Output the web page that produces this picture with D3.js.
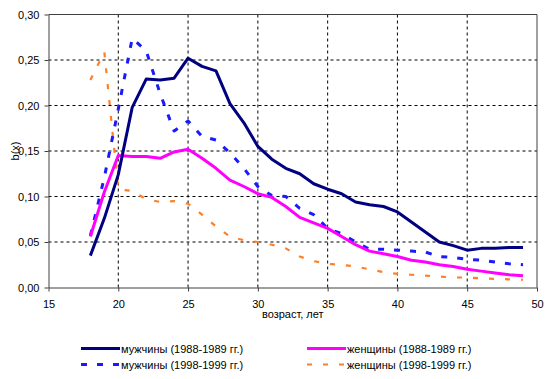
<!DOCTYPE html>
<html><head><meta charset="utf-8">
<script src="https://cdn.jsdelivr.net/npm/d3@7"></script>
<style>
html,body{margin:0;padding:0;background:#fff;}
text{font-family:"Liberation Sans",Arial,sans-serif;font-size:11px;fill:#000;}
</style></head>
<body>
<svg id="c" width="548" height="379"></svg>
<script>
const ages = [18,19,20,21,22,23,24,25,26,27,28,29,30,31,32,33,34,35,36,37,38,39,40,41,42,43,44,45,46,47,48,49];
const menOld = [0.035,0.076,0.124,0.198,0.229,0.228,0.230,0.252,0.243,0.238,0.202,0.181,0.155,0.141,0.131,0.125,0.114,0.108,0.103,0.094,0.091,0.089,0.083,0.072,0.061,0.050,0.046,0.041,0.043,0.043,0.044,0.044];
const womenOld = [0.056,0.105,0.145,0.144,0.144,0.142,0.149,0.152,0.142,0.131,0.118,0.111,0.103,0.099,0.089,0.077,0.071,0.065,0.056,0.047,0.040,0.037,0.034,0.030,0.028,0.025,0.023,0.020,0.018,0.016,0.014,0.013];
const menNew = [0.057,0.121,0.196,0.274,0.260,0.213,0.172,0.183,0.166,0.162,0.148,0.131,0.111,0.101,0.100,0.087,0.080,0.065,0.059,0.050,0.042,0.042,0.041,0.040,0.039,0.034,0.033,0.031,0.030,0.028,0.026,0.025];
const womenNew = [0.228,0.259,0.108,0.106,0.097,0.094,0.095,0.092,0.080,0.067,0.056,0.052,0.050,0.047,0.043,0.034,0.029,0.026,0.025,0.023,0.020,0.017,0.015,0.014,0.013,0.012,0.011,0.011,0.010,0.0095,0.009,0.0085];
const xTicks = [15,20,25,30,35,40,45,50];
const yTicks = [0,0.05,0.10,0.15,0.20,0.25,0.30];
const seriesNames = ["мужчины (1988-1989 гг.)","мужчины (1998-1999 гг.)","женщины (1988-1989 гг.)","женщины (1998-1999 гг.)"];
const xTitle = "возраст, лет";
const yTitle = "b(x)";

const svg = d3.select("#c");
const L = 48.5, R = 537, T = 14.5, B = 287.5;
const x = d3.scaleLinear().domain([15,50]).range([L,R]);
const y = d3.scaleLinear().domain([0,0.30]).range([B,T]);
const fmt = v => d3.format(".2f")(v).replace(".", ",");

// grid
const g = svg.append("g");
g.selectAll("line.vg").data(xTicks.filter(t => t>15 && t<50)).enter().append("line")
  .attr("x1", d=>x(d)).attr("x2", d=>x(d)).attr("y1", T).attr("y2", B)
  .attr("stroke","#000").attr("stroke-width",1).attr("stroke-dasharray","3,3");
g.selectAll("line.hg").data(yTicks.filter(t => t>0 && t<0.3)).enter().append("line")
  .attr("x1", L).attr("x2", R).attr("y1", d=>y(d)).attr("y2", d=>y(d))
  .attr("stroke","#000").attr("stroke-width",1).attr("stroke-dasharray","3,3");
// border top/right
svg.append("path").attr("d", `M${L},${T}H${R}V${B}`).attr("fill","none").attr("stroke","#404040").attr("stroke-width",1);

// axes
const ya = svg.append("g").attr("transform",`translate(${L},0)`)
  .call(d3.axisLeft(y).tickValues(yTicks).tickSize(4).tickPadding(5).tickFormat(fmt).tickSizeOuter(0));
const xa = svg.append("g").attr("transform",`translate(0,${B})`)
  .call(d3.axisBottom(x).tickValues(xTicks).tickSize(4).tickPadding(9).tickFormat(d3.format("d")).tickSizeOuter(0));
[ya, xa].forEach(a => {
  a.select(".domain").attr("stroke","#404040");
  a.selectAll(".tick line").attr("stroke","#404040");
  a.selectAll("text").style("font-family",'"Liberation Sans",Arial,sans-serif').style("font-size","11px").attr("fill","#000");
});

// titles
svg.append("text").attr("x", (L+R)/2).attr("y", 318).attr("text-anchor","middle").text(xTitle);
svg.append("text").attr("transform",`translate(19,${(T+B)/2}) rotate(-90)`).attr("text-anchor","middle").text(yTitle);

// series
const styles = [
  {data: menOld, color:"#000080", w:3, dash:null},
  {data: menNew, color:"#1a1aff", w:3, dash:"6,10"},
  {data: womenOld, color:"#ff00ff", w:3, dash:null},
  {data: womenNew, color:"#ff7f27", w:2.2, dash:"5,11"}
];
const line = d3.line().x((d,i)=>x(ages[i])).y(d=>y(d));
// draw order: orange, blue, magenta, navy
[3,1,2,0].forEach(k => {
  const s = styles[k];
  svg.append("path").datum(s.data).attr("d", line).attr("fill","none")
    .attr("stroke", s.color).attr("stroke-width", s.w)
    .attr("stroke-dasharray", s.dash).attr("stroke-linejoin","round");
});

// legend
const leg = [
  {k:0, x:81, y:348.5},
  {k:1, x:81, y:364.5},
  {k:2, x:307, y:348.5},
  {k:3, x:307, y:364.5}
];
leg.forEach(l => {
  const s = styles[l.k];
  svg.append("line").attr("x1", l.x).attr("x2", l.x+39).attr("y1", l.y).attr("y2", l.y)
    .attr("stroke", s.color).attr("stroke-width", s.w).attr("stroke-dasharray", s.dash);
  svg.append("text").attr("x", l.x+40).attr("y", l.y+4).text(seriesNames[l.k]);
});
</script>
</body></html>
